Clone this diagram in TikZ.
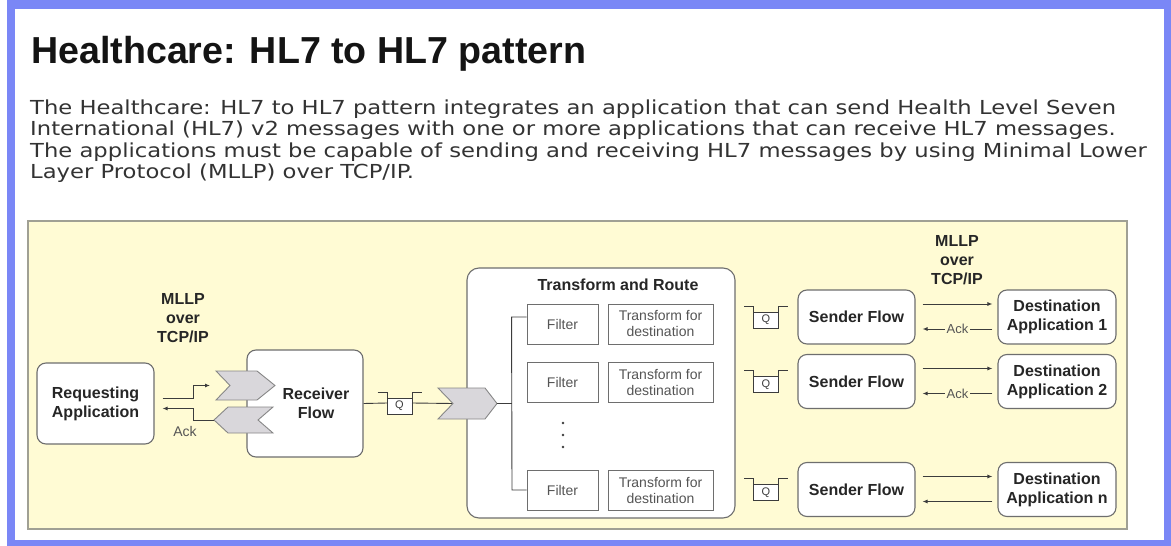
\documentclass[tikz,border=0pt]{standalone}
\usepackage{fontspec}
\setmainfont{Liberation Sans}
\newfontfamily\bodyfont{DejaVu Sans}
\usetikzlibrary{arrows.meta}

\definecolor{frameblue}{RGB}{122,135,246}
\definecolor{panel}{RGB}{255,251,212}
\definecolor{panelborder}{RGB}{160,160,148}
\definecolor{boxborder}{RGB}{110,110,110}
\definecolor{chevfill}{RGB}{217,215,219}
\definecolor{chevdraw}{RGB}{135,135,135}
\definecolor{linec}{RGB}{60,60,60}
\definecolor{textgray}{RGB}{85,85,85}
\definecolor{bodytext}{RGB}{51,51,51}

\begin{document}
\begin{tikzpicture}[x=1pt,y=-1pt,
  rbox/.style={draw=boxborder, line width=1.1pt, fill=white, rounded corners=9pt,
    align=center, font=\fontsize{16}{19}\selectfont\bfseries, inner sep=0pt, text=black!85},
  sbox/.style={draw=boxborder, line width=0.9pt, fill=white, align=center,
    font=\fontsize{14}{16}\selectfont, text=textgray, inner sep=0pt},
  chev/.style={draw=chevdraw, fill=chevfill, line width=0.9pt},
  conn/.style={draw=linec, line width=0.9pt},
  arr/.style={conn, -{Latex[length=5pt,width=4pt]}},
  lbl/.style={font=\fontsize{16}{19}\selectfont\bfseries, align=center, text=black!85},
  acklbl/.style={font=\fontsize{13}{15}\selectfont, text=textgray, fill=panel, inner sep=1.5pt},
  body/.style={font=\bodyfont\fontsize{19.3}{21.5}\selectfont, text=bodytext, anchor=base west, inner sep=0pt},
  qb/.pic={
    \fill[white] (-12.5,-5) rectangle (12.5,11);
    \draw[conn] (-22,-11) -- (-12.5,-11) -- (-12.5,11) -- (12.5,11) -- (12.5,-11) -- (22,-11);
    \draw[conn] (-12.5,-5) -- (12.5,-5);
    \node[font=\fontsize{11}{11}\selectfont, text=linec] at (0,3) {Q};
    \coordinate (-w) at (-12.5,0);
    \coordinate (-e) at (12.5,0);
  }
]
\useasboundingbox (0,0) rectangle (1171,546);
\fill[white] (0,0) rectangle (1171,546);
\fill[frameblue] (7,0) rectangle (1171,546);
\fill[white] (15,9) rectangle (1164,540);

% title and text
\node[anchor=base west, inner sep=0pt, font=\fontsize{37.6}{40}\selectfont\bfseries, text=black!92] (title) at (31,63) {Healthcare: HL7 to HL7 pattern};
\node[body] (l1) at (30,114) {\scalebox{1.175}[1]{The Healthcare: HL7 to HL7 pattern integrates an application that can send Health Level Seven}};
\node[body] (l2) at (30,135.5) {\scalebox{1.175}[1]{International (HL7) v2 messages with one or more applications that can receive HL7 messages.}};
\node[body] (l3) at (30,157) {\scalebox{1.175}[1]{The applications must be capable of sending and receiving HL7 messages by using Minimal Lower}};
\node[body] (l4) at (30,178.5) {\scalebox{1.175}[1]{Layer Protocol (MLLP) over TCP/IP.}};

% panel
\draw[panelborder, line width=2pt, fill=panel] (28,221) rectangle (1127,529);

% left part
\node[rbox, minimum width=117pt, minimum height=81pt] (req) at (95.5,403.5) {Requesting\\Application};
\node[rbox, minimum width=116pt, minimum height=107pt] (recv) at (305,403.5) {};
\node[lbl] (recvt) at (316,403.5) {Receiver\\Flow};
\node[lbl] (mllp1) at (183,318) {MLLP\\over\\TCP/IP};

\draw[chev] (216,371) -- (257,371) -- (275,385.5) -- (257,400) -- (216,400) -- (230,385.5) -- cycle;
\coordinate (ch1in) at (210,385.5);
\draw[chev] (228,407) -- (273,407) -- (258,420) -- (273,433) -- (228,433) -- (214,420) -- cycle;
\coordinate (ch2tip) at (214,420);

\draw[arr] ([xshift=8pt,yshift=5.5pt]req.east) -- ++(31,0) |- (ch1in);
\draw[arr] (ch2tip) -- (193,420) |- ([xshift=8pt,yshift=-5pt]req.east);
\node[font=\fontsize{14}{16}\selectfont, text=textgray] (ack0) at (185,431) {Ack};

% transform and route
\node[rbox, rounded corners=12pt, minimum width=268pt, minimum height=250pt] (tr) at (601,393) {};
\node[lbl] (trt) at (618,285) {Transform and Route};
\foreach \i/\y in {1/324,2/382,3/490}{
  \node[sbox, minimum width=71pt, minimum height=40pt] (f\i) at (562.5,\y) {Filter};
  \node[sbox, minimum width=105pt, minimum height=40pt] (t\i) at (660.5,\y) {Transform for\\destination};
}

% queue and chevron into transform
\pic (q0) at (399.5,403) {qb};
\coordinate (ch3tip) at (497,403.5);
\coordinate (ch3in) at (453,403.5);
\draw[conn] (recv.east) -- (q0-w);
\draw[conn] (q0-e) -- (ch3in);
\draw[chev] (438,388) -- (485,388) -- (497,403.5) -- (485,419) -- (438,419) -- (453,403.5) -- cycle;

\coordinate (bus) at (512,403.5);
\draw[conn] ([yshift=7pt]f1.west) -- ++(-15,0) -- (bus |- f3.west) -- (f3.west);
\draw[conn] (ch3tip) -- (bus);
\foreach \y in {423,435,447}{ \fill[linec] (563,\y) circle (1.4pt); }

% right side
\node[lbl] (mllp2) at (957,260) {MLLP\\over\\TCP/IP};
\foreach \i/\y/\n in {1/317/1,2/381.5/2,3/489.5/n}{
  \pic (q\i) at (766,\y) {qb};
  \node[rbox, minimum width=117pt, minimum height=54pt] (s\i) at (856.5,\y) {Sender Flow};
  \node[rbox, minimum width=118pt, minimum height=54pt] (d\i) at (1057,\y) {Destination\\Application \n};
  \draw[arr] ([xshift=7pt,yshift=13pt]s\i.east) -- ([xshift=-5pt,yshift=13pt]d\i.west);
}
\draw[arr] ([xshift=-5pt,yshift=-12pt]d1.west) -- node[acklbl] {Ack} ([xshift=7pt,yshift=-12pt]s1.east);
\draw[arr] ([xshift=-5pt,yshift=-12pt]d2.west) -- node[acklbl] {Ack} ([xshift=7pt,yshift=-12pt]s2.east);
\draw[arr] ([xshift=-5pt,yshift=-12pt]d3.west) -- ([xshift=7pt,yshift=-12pt]s3.east);
\end{tikzpicture}
\end{document}
